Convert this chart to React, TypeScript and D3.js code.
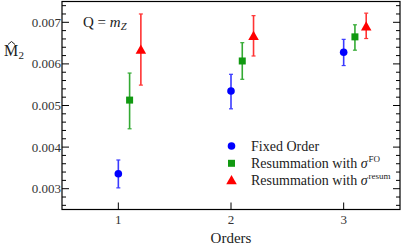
import React, { useEffect, useRef } from "react";
import * as d3 from "d3";

// orders on the x axis and the horizontal offset of each series
const orders = [1, 2, 3];
const seriesOffsets = [0, 0.1, 0.2];

// Fixed Order
const fixedOrder = [0.00336, 0.00535, 0.00628];
const fixedOrderLo = [0.00302, 0.00492, 0.00596];
const fixedOrderHi = [0.00369, 0.00575, 0.00659];

// Resummation with sigma^FO
const resumFO = [0.00513, 0.00607, 0.00665];
const resumFOLo = [0.00444, 0.00563, 0.00633];
const resumFOHi = [0.00578, 0.00651, 0.00694];

// Resummation with sigma^resum
const resumResum = [0.00633, 0.00666, 0.00689];
const resumResumLo = [0.00549, 0.00619, 0.00661];
const resumResumHi = [0.0072, 0.00716, 0.00722];

const yMajorTicks = [0.003, 0.004, 0.005, 0.006, 0.007];
const yTickLabels = ["0.003", "0.004", "0.005", "0.006", "0.007"];

const W = 403,
  H = 246;
const margin = { left: 62, right: 3, top: 1.5, bottom: 36.5 };

export default function App() {
  const ref = useRef<SVGSVGElement>(null);

  useEffect(() => {
    const svg = d3.select(ref.current);
    svg.selectAll("*").remove();

    const x = d3.scaleLinear().domain([0.5, 3.5]).range([margin.left, W - margin.right]);
    const y = d3.scaleLinear().domain([0.0025, 0.0075]).range([H - margin.bottom, margin.top]);

    const x0 = x.range()[0],
      x1 = x.range()[1],
      yb = y.range()[0],
      yt = y.range()[1];

    // ticks
    const minor = d3.range(25).map((i) => 0.0026 + i * 0.0002);
    const g = svg.append("g").attr("stroke", "#000").attr("stroke-width", 1);
    minor.filter((v) => v < 0.0075).forEach((v) => {
      const isMajor = yMajorTicks.some((m) => Math.abs(m - v) < 1e-9);
      const len = isMajor ? 7 : 4;
      g.append("line").attr("x1", x0).attr("x2", x0 + len).attr("y1", y(v)).attr("y2", y(v));
      g.append("line").attr("x1", x1).attr("x2", x1 - len).attr("y1", y(v)).attr("y2", y(v));
    });
    orders.forEach((o) => {
      g.append("line").attr("x1", x(o)).attr("x2", x(o)).attr("y1", yb).attr("y2", yb - 7);
    });

    // frame
    svg
      .append("rect")
      .attr("x", x0)
      .attr("y", yt)
      .attr("width", x1 - x0)
      .attr("height", yb - yt)
      .attr("fill", "none")
      .attr("stroke", "#000")
      .attr("stroke-width", 1.2);

    // tick labels
    yMajorTicks.forEach((v, i) => {
      svg
        .append("text")
        .attr("x", x0 - 1)
        .attr("y", y(v) + 4.5)
        .attr("text-anchor", "end")
        .attr("font-size", 13)
        .attr("fill", "#333")
        .text(yTickLabels[i]);
    });
    orders.forEach((o) => {
      svg
        .append("text")
        .attr("x", x(o))
        .attr("y", yb + 14)
        .attr("text-anchor", "middle")
        .attr("font-size", 13)
        .attr("fill", "#333")
        .text(String(o));
    });

    // axis titles
    svg
      .append("text")
      .attr("x", x((0.5 + 3.5) / 2))
      .attr("y", 243)
      .attr("text-anchor", "middle")
      .attr("font-size", 15)
      .attr("fill", "#222")
      .text("Orders");

    const yl = svg.append("g").attr("fill", "#222");
    yl.append("text").attr("x", 4).attr("y", 56).attr("font-size", 16).text("M");
    yl.append("path")
      .attr("d", "M8,44.5 L11.5,41.5 L15,44.5")
      .attr("fill", "none")
      .attr("stroke", "#222")
      .attr("stroke-width", 1);
    yl.append("text").attr("x", 18.5).attr("y", 59).attr("font-size", 11).text("2");

    const q = svg
      .append("text")
      .attr("x", 83)
      .attr("y", 27)
      .attr("font-size", 15)
      .attr("fill", "#222");
    q.append("tspan").text("Q = ");
    q.append("tspan").attr("font-style", "italic").text("m");
    q.append("tspan").attr("font-style", "italic").attr("font-size", 10.5).attr("dy", 3).text("Z");

    const series = [
      { vals: fixedOrder, lo: fixedOrderLo, hi: fixedOrderHi, color: "#0000ff", bar: "#3a3aff", shape: "circle" },
      { vals: resumFO, lo: resumFOLo, hi: resumFOHi, color: "#119911", bar: "#33aa33", shape: "square" },
      { vals: resumResum, lo: resumResumLo, hi: resumResumHi, color: "#ff0000", bar: "#ff3333", shape: "triangle" },
    ];

    const drawMarker = (sel: any, shape: string, cx: number, cy: number, color: string) => {
      if (shape === "circle") {
        sel.append("circle").attr("cx", cx).attr("cy", cy).attr("r", 3.8).attr("fill", color);
      } else if (shape === "square") {
        sel.append("rect").attr("x", cx - 3.5).attr("y", cy - 3.5).attr("width", 7).attr("height", 7).attr("fill", color);
      } else {
        const sym = d3.symbol().type(d3.symbolTriangle).size(48);
        sel
          .append("path")
          .attr("d", sym())
          .attr("transform", `translate(${cx},${cy + 0.5})`)
          .attr("fill", color);
      }
    };

    series.forEach((s, si) => {
      const sg = svg.append("g");
      orders.forEach((o, i) => {
        const cx = x(o + seriesOffsets[si]);
        sg.append("line")
          .attr("x1", cx)
          .attr("x2", cx)
          .attr("y1", y(s.lo[i]))
          .attr("y2", y(s.hi[i]))
          .attr("stroke", s.bar)
          .attr("stroke-width", 1.6);
        [s.lo[i], s.hi[i]].forEach((v) => {
          sg.append("line")
            .attr("x1", cx - 2)
            .attr("x2", cx + 2)
            .attr("y1", y(v))
            .attr("y2", y(v))
            .attr("stroke", s.bar)
            .attr("stroke-width", 1.2);
        });
        drawMarker(sg, s.shape, cx, y(s.vals[i]), s.color);
      });
    });

    // legend
    const legendLabels = ["Fixed Order", "Resummation with ", "Resummation with "];
    const legendSup = ["", "FO", "resum"];
    series.forEach((s, i) => {
      const ly = 146 + i * 17.3;
      drawMarker(svg, s.shape, 231.5, ly, s.color);
      const t = svg
        .append("text")
        .attr("x", 251)
        .attr("y", ly + 4.5)
        .attr("font-size", 14)
        .attr("fill", "#222");
      t.append("tspan").text(legendLabels[i]);
      if (legendSup[i]) {
        t.append("tspan").attr("font-style", "italic").text("σ");
        t.append("tspan").attr("font-size", 9).attr("dy", -6).attr("dx", 1).text(legendSup[i]);
      }
    });
  }, []);

  return (
    <svg
      ref={ref}
      width={W}
      height={H}
      style={{
        position: "absolute",
        left: 0,
        top: 0,
        background: "#fff",
        fontFamily: "'Liberation Serif', 'Times New Roman', serif",
      }}
    />
  );
}
